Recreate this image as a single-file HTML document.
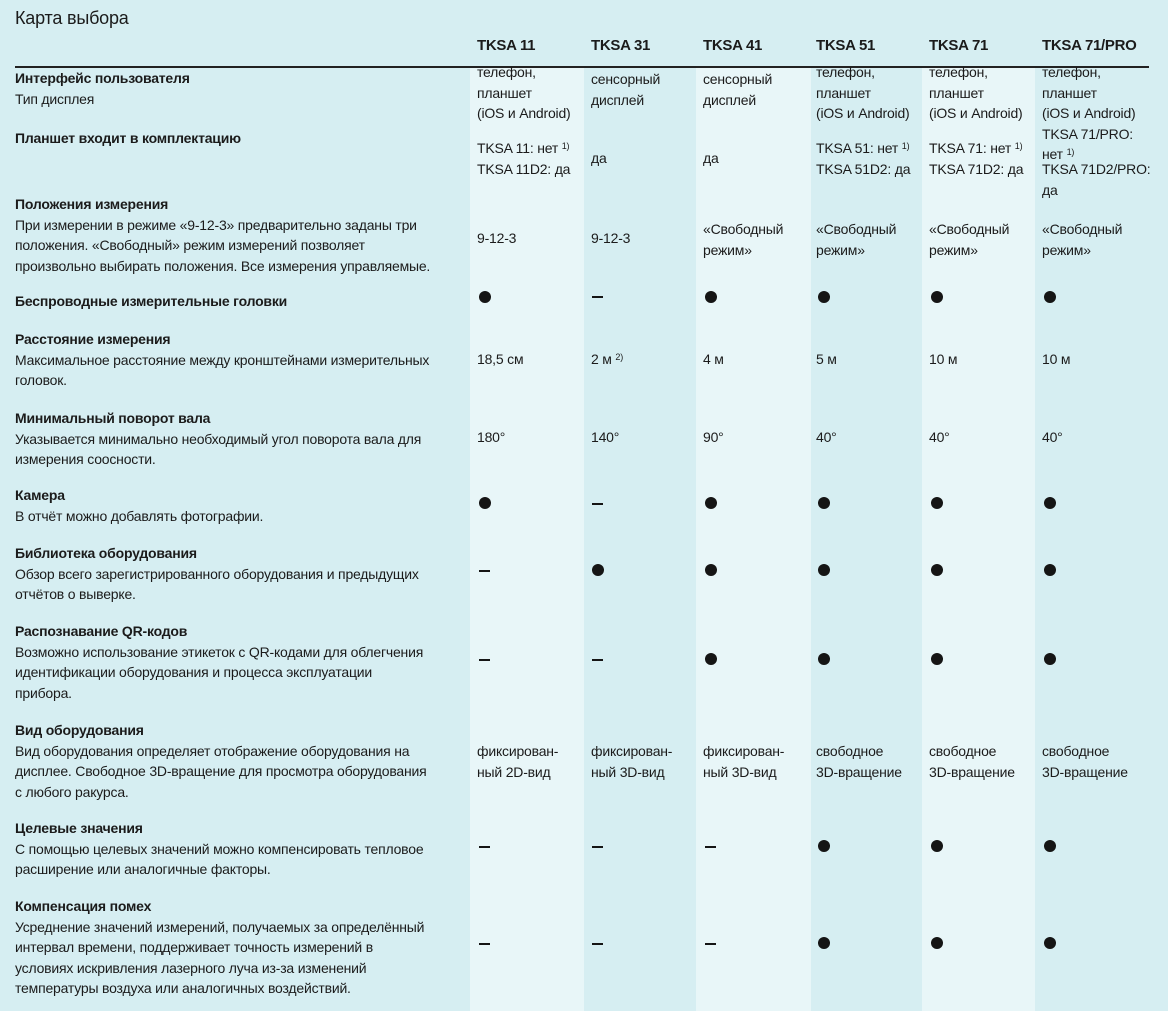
<!DOCTYPE html>
<html><head><meta charset="utf-8"><style>
html,body{margin:0;width:1168px;height:1011px;overflow:hidden}
body{background:#d6eef2;position:relative;font-family:"Liberation Sans","DejaVu Sans",sans-serif;color:#1b1b1b}
.c{position:absolute;top:68px;height:943px;background:#e8f6f8}
.t{position:absolute;font-size:14px;line-height:20.5px;white-space:nowrap;letter-spacing:-0.2px}
.b{font-weight:bold;font-size:14px}
.h{position:absolute;top:37px;font-size:15px;font-weight:bold;white-space:nowrap;letter-spacing:-0.3px}
.d{position:absolute;width:12px;height:12px;border-radius:50%;background:#151515}
.m{position:absolute;width:11px;height:2px;background:#151515}
sup{font-size:9px;line-height:0;position:relative;top:-4px;vertical-align:baseline}
</style></head><body>
<div class="c" style="left:470px;width:114px"></div>
<div class="c" style="left:696px;width:115px"></div>
<div class="c" style="left:922px;width:113px"></div>
<div class="t" style="left:15px;top:8px;font-size:18px;">Карта выбора</div>
<div class="h" style="left:477px">TKSA 11</div>
<div class="h" style="left:591px">TKSA 31</div>
<div class="h" style="left:703px">TKSA 41</div>
<div class="h" style="left:816px">TKSA 51</div>
<div class="h" style="left:929px">TKSA 71</div>
<div class="h" style="left:1042px">TKSA 71/PRO</div>
<div style="position:absolute;left:15px;top:66px;width:1134px;height:1.5px;background:#222"></div>

<div class="t" style="left:15px;top:68px"><span class="b">Интерфейс пользователя</span><br>Тип дисплея</div>
<div class="t" style="left:477px;top:62px">телефон,<br>планшет<br>(iOS и Android)</div>
<div class="t" style="left:591px;top:69px">сенсорный<br>дисплей</div>
<div class="t" style="left:703px;top:69px">сенсорный<br>дисплей</div>
<div class="t" style="left:816px;top:62px">телефон,<br>планшет<br>(iOS и Android)</div>
<div class="t" style="left:929px;top:62px">телефон,<br>планшет<br>(iOS и Android)</div>
<div class="t" style="left:1042px;top:62px">телефон,<br>планшет<br>(iOS и Android)<br>TKSA 71/PRO:<br>нет <sup>1)</sup></div>

<div class="t b" style="left:15px;top:128px">Планшет входит в комплектацию</div>
<div class="t" style="left:477px;top:138px">TKSA 11: нет <sup>1)</sup><br>TKSA 11D2: да</div>
<div class="t" style="left:591px;top:148px">да</div>
<div class="t" style="left:703px;top:148px">да</div>
<div class="t" style="left:816px;top:138px">TKSA 51: нет <sup>1)</sup><br>TKSA 51D2: да</div>
<div class="t" style="left:929px;top:138px">TKSA 71: нет <sup>1)</sup><br>TKSA 71D2: да</div>
<div class="t" style="left:1042px;top:159px">TKSA 71D2/PRO:<br>да</div>

<div class="t" style="left:15px;top:194px"><span class="b">Положения измерения</span><br>При измерении в режиме «9-12-3» предварительно заданы три<br>положения. «Свободный» режим измерений позволяет<br>произвольно выбирать положения. Все измерения управляемые.</div>
<div class="t" style="left:477px;top:228px">9-12-3</div>
<div class="t" style="left:591px;top:228px">9-12-3</div>
<div class="t" style="left:703px;top:219px">«Свободный<br>режим»</div>
<div class="t" style="left:816px;top:219px">«Свободный<br>режим»</div>
<div class="t" style="left:929px;top:219px">«Свободный<br>режим»</div>
<div class="t" style="left:1042px;top:219px">«Свободный<br>режим»</div>

<div class="t b" style="left:15px;top:291px">Беспроводные измерительные головки</div>
<div class="d" style="left:479px;top:291px"></div>
<div class="m" style="left:592px;top:296px"></div>
<div class="d" style="left:705px;top:291px"></div>
<div class="d" style="left:818px;top:291px"></div>
<div class="d" style="left:931px;top:291px"></div>
<div class="d" style="left:1044px;top:291px"></div>

<div class="t" style="left:15px;top:329px"><span class="b">Расстояние измерения</span><br>Максимальное расстояние между кронштейнами измерительных<br>головок.</div>
<div class="t" style="left:477px;top:349px">18,5 см</div>
<div class="t" style="left:591px;top:349px">2 м <sup>2)</sup></div>
<div class="t" style="left:703px;top:349px">4 м</div>
<div class="t" style="left:816px;top:349px">5 м</div>
<div class="t" style="left:929px;top:349px">10 м</div>
<div class="t" style="left:1042px;top:349px">10 м</div>

<div class="t" style="left:15px;top:408px"><span class="b">Минимальный поворот вала</span><br>Указывается минимально необходимый угол поворота вала для<br>измерения соосности.</div>
<div class="t" style="left:477px;top:427px">180°</div>
<div class="t" style="left:591px;top:427px">140°</div>
<div class="t" style="left:703px;top:427px">90°</div>
<div class="t" style="left:816px;top:427px">40°</div>
<div class="t" style="left:929px;top:427px">40°</div>
<div class="t" style="left:1042px;top:427px">40°</div>

<div class="t" style="left:15px;top:485px"><span class="b">Камера</span><br>В отчёт можно добавлять фотографии.</div>
<div class="d" style="left:479px;top:497px"></div>
<div class="m" style="left:592px;top:503px"></div>
<div class="d" style="left:705px;top:497px"></div>
<div class="d" style="left:818px;top:497px"></div>
<div class="d" style="left:931px;top:497px"></div>
<div class="d" style="left:1044px;top:497px"></div>

<div class="t" style="left:15px;top:543px"><span class="b">Библиотека оборудования</span><br>Обзор всего зарегистрированного оборудования и предыдущих<br>отчётов о выверке.</div>
<div class="m" style="left:479px;top:570px"></div>
<div class="d" style="left:592px;top:564px"></div>
<div class="d" style="left:705px;top:564px"></div>
<div class="d" style="left:818px;top:564px"></div>
<div class="d" style="left:931px;top:564px"></div>
<div class="d" style="left:1044px;top:564px"></div>

<div class="t" style="left:15px;top:621px"><span class="b">Распознавание QR-кодов</span><br>Возможно использование этикеток с QR-кодами для облегчения<br>идентификации оборудования и процесса эксплуатации<br>прибора.</div>
<div class="m" style="left:479px;top:659px"></div>
<div class="m" style="left:592px;top:659px"></div>
<div class="d" style="left:705px;top:653px"></div>
<div class="d" style="left:818px;top:653px"></div>
<div class="d" style="left:931px;top:653px"></div>
<div class="d" style="left:1044px;top:653px"></div>

<div class="t" style="left:15px;top:720px"><span class="b">Вид оборудования</span><br>Вид оборудования определяет отображение оборудования на<br>дисплее. Свободное 3D-вращение для просмотра оборудования<br>с любого ракурса.</div>
<div class="t" style="left:477px;top:741px">фиксирован-<br>ный 2D-вид</div>
<div class="t" style="left:591px;top:741px">фиксирован-<br>ный 3D-вид</div>
<div class="t" style="left:703px;top:741px">фиксирован-<br>ный 3D-вид</div>
<div class="t" style="left:816px;top:741px">свободное<br>3D-вращение</div>
<div class="t" style="left:929px;top:741px">свободное<br>3D-вращение</div>
<div class="t" style="left:1042px;top:741px">свободное<br>3D-вращение</div>

<div class="t" style="left:15px;top:818px"><span class="b">Целевые значения</span><br>С помощью целевых значений можно компенсировать тепловое<br>расширение или аналогичные факторы.</div>
<div class="m" style="left:479px;top:846px"></div>
<div class="m" style="left:592px;top:846px"></div>
<div class="m" style="left:705px;top:846px"></div>
<div class="d" style="left:818px;top:840px"></div>
<div class="d" style="left:931px;top:840px"></div>
<div class="d" style="left:1044px;top:840px"></div>

<div class="t" style="left:15px;top:896px"><span class="b">Компенсация помех</span><br>Усреднение значений измерений, получаемых за определённый<br>интервал времени, поддерживает точность измерений в<br>условиях искривления лазерного луча из-за изменений<br>температуры воздуха или аналогичных воздействий.</div>
<div class="m" style="left:479px;top:943px"></div>
<div class="m" style="left:592px;top:943px"></div>
<div class="m" style="left:705px;top:943px"></div>
<div class="d" style="left:818px;top:937px"></div>
<div class="d" style="left:931px;top:937px"></div>
<div class="d" style="left:1044px;top:937px"></div>
</body></html>
